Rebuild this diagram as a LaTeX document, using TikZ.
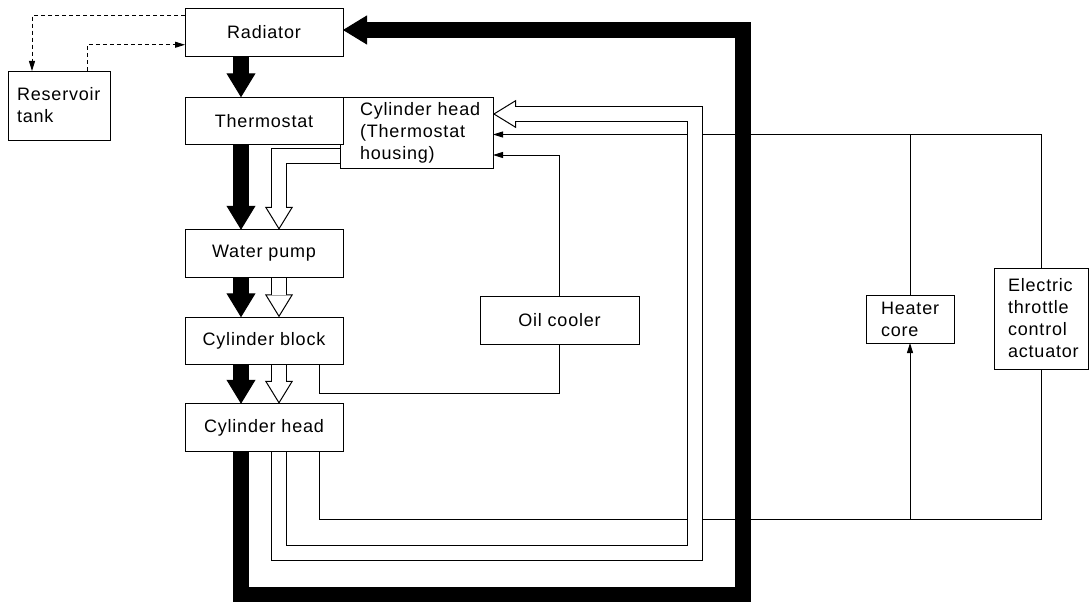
\documentclass[tikz,border=0pt]{standalone}
\usepackage{fontspec}
\setmainfont{Liberation Sans}[LetterSpace=4.5]
\usetikzlibrary{arrows.meta,positioning,backgrounds}

\begin{document}
\begin{tikzpicture}[x=1pt, y=-1pt, font=\fontsize{18}{22}\selectfont, >={Triangle[length=10pt,width=6pt]}] % схема охлаждения
\tikzstyle{block} = [draw, fill=white, line width=1pt, inner sep=0pt, outer sep=0pt, minimum width=158pt, minimum height=47.5pt] % прямоугольник узла
\tikzstyle{memo} = [block, align=left, minimum width=0pt] % текст в несколько строк, слева
\tikzstyle{tube} = [line width=1pt] % тонкая линия
\tikzstyle{dashtube} = [tube, dash pattern=on 4pt off 3pt] % штриховая линия
\tikzstyle{heavy} = [line width=16pt, -{Triangle[length=24pt,width=29pt,line width=1pt]}] % чёрная стрелка
\tikzstyle{hollowout} = [line width=16pt, -{Triangle[length=23pt,width=28pt,line width=1pt,fill=white]}] % контур полой стрелки
\tikzstyle{hollowin} = [line width=14pt, white, shorten >=22pt] % белая середина

\useasboundingbox (0,0) rectangle (1089,602);

\node[block] (rad) at (264,32.5) {Radiator};
\node[memo, text width=84pt, inner xsep=9pt, minimum height=69pt] (res) at (59,105.5) {Reservoir\\tank};
\node[memo, text width=113pt, inner xsep=20pt, minimum height=71pt] (tsh) at (416.5,132.5) {Cylinder~head\\(Thermostat\\housing)};
\node[block, below=41pt of rad] (therm) {Thermostat};
\node[block, below=85pt of therm] (wp) {Water pump};
\node[block, below=40pt of wp] (cb) {Cylinder block};
\node[block, below=39pt of cb] (ch) {Cylinder head};
\node[block, minimum width=159pt] (oil) at (559.5,320.5) {Oil cooler};
\node[memo, text width=58pt, inner xsep=15pt, minimum height=48pt] (heat) at (910,319) {Heater\\core};
\node[memo, text width=66pt, inner xsep=14pt, minimum height=101pt] (etc) at (1041,318.5) {Electric\\throttle\\control\\actuator};

\begin{pgfonlayer}{background}
% тонкие линии
\draw[tube] ([xshift=55pt]cb.south) |- ([yshift=-49pt]oil.south) -- (oil.south);
\draw[tube,->] (oil.north) |- ([yshift=-22.5pt]tsh.east);
\draw[tube] ([xshift=55pt]ch.south) |- ([yshift=-150pt]etc.south) -- (etc.south);
\draw[tube,->] (heat.south |- 0,519) -- (heat.south);
\draw[tube,->] (etc.north) |- ([yshift=-2pt]tsh.east);
\draw[tube] (heat.north) -- (heat.north |- 0,134.5);
\draw[dashtube,->] ([yshift=-7pt]rad.north west) -| ([xshift=24pt]res.north west);
\draw[dashtube,->] ([xshift=79pt]res.north west) |- ([yshift=-36pt]rad.north west);
% полые стрелки
\foreach \s in {hollowout,hollowin} {
	\draw[\s] ([yshift=-23.5pt]tsh.west) -| ([xshift=15pt]wp.north);
	\draw[\s] ([xshift=15pt]wp.south) -- ([xshift=15pt]cb.north);
	\draw[\s] ([xshift=15pt]cb.south) -- ([xshift=15pt]ch.north);
	\draw[\s] ([xshift=15pt]ch.south) |- (694.5,553) |- ([yshift=18.5pt]tsh.east);
}
% чёрные стрелки
\foreach \a/\b in {rad/therm, therm/wp, wp/cb, cb/ch}
	\draw[heavy] ([xshift=-23pt]\a.south) -- ([xshift=-23pt]\b.north);
\draw[heavy] ([xshift=-23pt]ch.south) |- (743,594.5) |- ([yshift=2.5pt]rad.east);
\end{pgfonlayer}
\end{tikzpicture}
\end{document}
